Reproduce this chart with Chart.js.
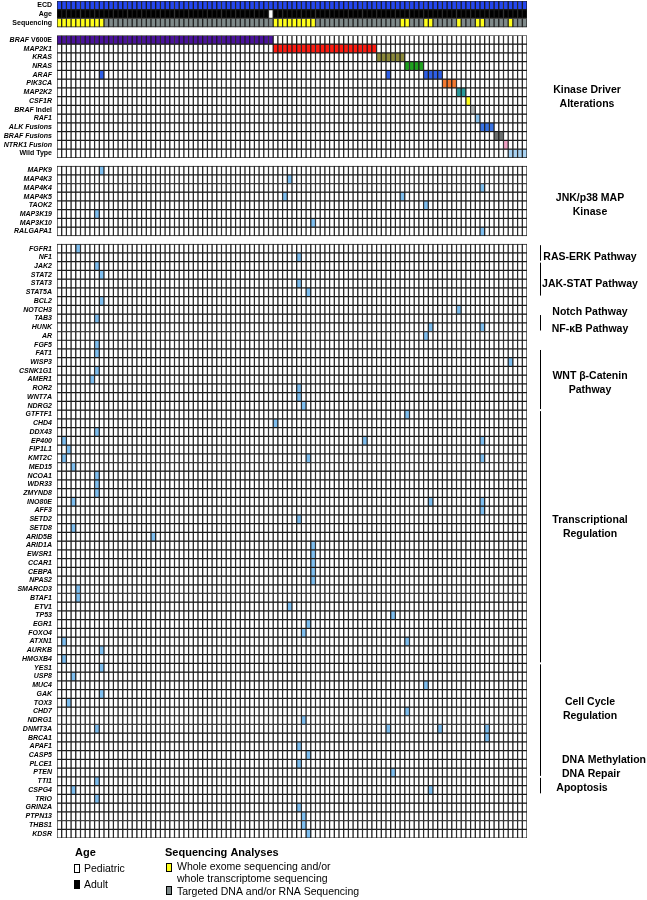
<!DOCTYPE html>
<html>
<head>
<meta charset="utf-8">
<script src="https://cdn.jsdelivr.net/npm/chart.js@4.4.0/dist/chart.umd.min.js"></script>
<style>
  html, body { margin: 0; padding: 0; background: #fff; }
  #wrap { position: relative; width: 647px; height: 900px; }
</style>
</head>
<body>
<div id="wrap"><canvas id="oncoprint"></canvas></div>
<script>
// one column per patient
const patients = Array.from({length: 100}, (_, i) => 'Pt ' + (i + 1));

// header rows
const pediatricCols = [45];
const wesSpans = [[0, 9], [46, 54], [73, 74], [78, 79], [85, 85], [89, 90], [96, 96]];

// kinase driver alterations, spans of columns [first, last]
const kinaseGenes = ['BRAF V600E', 'MAP2K1', 'KRAS', 'NRAS', 'ARAF', 'PIK3CA', 'MAP2K2', 'CSF1R',
  'BRAF Indel', 'RAF1', 'ALK Fusions', 'BRAF Fusions', 'NTRK1 Fusion', 'Wild Type'];
const kinaseSpans = [
  [[0, 45]], [[46, 67]], [[68, 73]], [[74, 77]], [[9, 9], [70, 70], [78, 81]], [[82, 84]],
  [[85, 86]], [[87, 87]], [[88, 88]], [[89, 89]], [[90, 92]], [[93, 94]], [[95, 95]], [[96, 99]]
];
const kinaseColors = ['#4a129c', '#ff1a10', '#8c8a3c', '#1fa31f', '#2f5fe6', '#f47a30', '#2a9a9c',
  '#ffff1a', '#b4b8b8', '#8ec6f0', '#3a74e4', '#6e7272', '#f2a2c4', '#a8d2f2'];

// JNK/p38 MAP kinase genes, mutated columns
const mapkGenes = ['MAPK9', 'MAP4K3', 'MAP4K4', 'MAP4K5', 'TAOK2', 'MAP3K19', 'MAP3K10', 'RALGAPA1'];
const mapkHits = [[9], [49], [90], [48, 73], [78], [8], [54], [90]];

// pathway genes, mutated columns
const otherGenes = ['FGFR1', 'NF1', 'JAK2', 'STAT2', 'STAT3', 'STAT5A', 'BCL2', 'NOTCH3', 'TAB3', 'HUNK',
  'AR', 'FGF5', 'FAT1', 'WISP3', 'CSNK1G1', 'AMER1', 'ROR2', 'WNT7A', 'NDRG2', 'GTFTF1', 'CHD4', 'DDX43',
  'EP400', 'FIP1L1', 'KMT2C', 'MED15', 'NCOA1', 'WDR33', 'ZMYND8', 'INO80E', 'AFF3', 'SETD2', 'SETD8',
  'ARID5B', 'ARID1A', 'EWSR1', 'CCAR1', 'CEBPA', 'NPAS2', 'SMARCD3', 'BTAF1', 'ETV1', 'TP53', 'EGR1',
  'FOXO4', 'ATXN1', 'AURKB', 'HMGXB4', 'YES1', 'USP8', 'MUC4', 'GAK', 'TOX3', 'CHD7', 'NDRG1', 'DNMT3A',
  'BRCA1', 'APAF1', 'CASP5', 'PLCE1', 'PTEN', 'TTI1', 'CSPG4', 'TRIO', 'GRIN2A', 'PTPN13', 'THBS1', 'KDSR'];
const otherHits = [
  [4], [51], [8], [9], [51], [53], [9], [85], [8], [79, 90],
  [78], [8], [8], [96], [8], [7], [51], [51], [52], [74], [46], [8],
  [1, 65, 90], [2], [1, 53, 90], [3], [8], [8], [8], [3, 79, 90], [90], [51], [3],
  [20], [54], [54], [54], [54], [54], [4], [4], [49], [71], [53],
  [52], [1, 74], [9], [1], [9], [3], [78], [9], [2], [74], [52], [8, 70, 81, 91],
  [91], [51], [53], [51], [71], [8], [3, 79], [8], [51], [52], [52], [53]
];

// group labels on the right; row numbers count within otherGenes
const pathwayGroups = [
  {lines: ['RAS-ERK Pathway'], at: 1.0, first: 0, last: 1},
  {lines: ['JAK-STAT Pathway'], at: 4.1, first: 2, last: 5},
  {lines: ['Notch Pathway'], at: 7.3},
  {lines: ['NF-\u03baB Pathway'], at: 9.2, first: 8, last: 9},
  {lines: ['WNT \u03b2-Catenin', 'Pathway'], at: 15.4, first: 12, last: 18},
  {lines: ['Transcriptional', 'Regulation'], at: 31.9, first: 19, last: 47},
  {lines: ['Cell Cycle', 'Regulation'], at: 52.7, first: 48, last: 60},
  {lines: ['DNA Methylation', 'DNA Repair'], at: 59.4, x: 562, align: 'left'},
  {lines: ['Apoptosis'], at: 61.75, first: 61, last: 62, x: 582}
];

const ECD_BLUE = '#2446f0';
const YELLOW = '#ffff1a';
const SEQ_GRAY = '#7f8a8a';
const HIT = '#7fbff0';
const GRID = '#1c1c1c';
const FONT = '"Liberation Sans", Arial, Helvetica, sans-serif';
const GAP = 0.95;

const inSpans = (spans, c) => spans.some(s => c >= s[0] && c <= s[1]);

// stack the rows top to bottom, one unit each
const rows = [];
let cursor = 0;
function addRow(label, colorAt) {
  rows.push({label: label, y: cursor, colors: patients.map((_, c) => colorAt(c))});
  cursor += 1;
}
addRow('ECD', () => ECD_BLUE);
addRow('Age', c => pediatricCols.includes(c) ? '#ffffff' : '#000000');
addRow('Sequencing', c => inSpans(wesSpans, c) ? YELLOW : SEQ_GRAY);
cursor += GAP;
const kinaseStart = cursor;
kinaseGenes.forEach((g, i) => addRow(g, c => inSpans(kinaseSpans[i], c) ? kinaseColors[i] : '#ffffff'));
cursor += GAP;
const mapkStart = cursor;
mapkGenes.forEach((g, i) => addRow(g, c => mapkHits[i].includes(c) ? HIT : '#ffffff'));
cursor += GAP;
const otherStart = cursor;
otherGenes.forEach((g, i) => addRow(g, c => otherHits[i].includes(c) ? HIT : '#ffffff'));
const TOTAL = cursor;

const uprightLabels = ['ECD', 'Age', 'Sequencing', 'Wild Type'];
const uprightSuffix = {'BRAF V600E': ' V600E', 'BRAF Indel': ' Indel'};

const rowLabels = {
  id: 'rowLabels',
  afterDraw(chart) {
    const ctx = chart.ctx;
    const y = chart.scales.y;
    ctx.save();
    ctx.fillStyle = '#000';
    ctx.textBaseline = 'middle';
    rows.forEach(r => {
      const py = y.getPixelForValue(r.y + 0.5);
      const right = 52;
      ctx.textAlign = 'right';
      if (uprightLabels.includes(r.label)) {
        ctx.font = 'bold 7px ' + FONT;
        ctx.fillText(r.label, right, py);
      } else if (uprightSuffix[r.label]) {
        const suf = uprightSuffix[r.label];
        const head = r.label.slice(0, r.label.length - suf.length);
        ctx.font = 'bold 7px ' + FONT;
        const w = ctx.measureText(suf).width;
        ctx.fillText(suf, right, py);
        ctx.font = 'italic bold 7px ' + FONT;
        ctx.fillText(head, right - w, py);
      } else {
        ctx.font = 'italic bold 7px ' + FONT;
        ctx.fillText(r.label, right, py);
      }
    });

    // group titles and brackets
    ctx.font = 'bold 10.5px ' + FONT;
    const lh = 14;
    const drawLines = (lines, cy, cx, align) => {
      ctx.textAlign = align || 'center';
      lines.forEach((t, k) => ctx.fillText(t, cx, cy + (k - (lines.length - 1) / 2) * lh));
    };
    drawLines(['Kinase Driver', 'Alterations'], y.getPixelForValue(kinaseStart + 7), 587);
    drawLines(['JNK/p38 MAP', 'Kinase'], y.getPixelForValue(mapkStart + 4.5), 590);
    ctx.strokeStyle = '#000';
    ctx.lineWidth = 1;
    pathwayGroups.forEach(g => {
      drawLines(g.lines, y.getPixelForValue(otherStart + g.at + 0.5), g.x || 590, g.align);
      if (g.first !== undefined) {
        const top = y.getPixelForValue(otherStart + g.first);
        const bot = y.getPixelForValue(otherStart + g.last + 1);
        ctx.beginPath();
        ctx.moveTo(540.5, top + 1);
        ctx.lineTo(540.5, bot - 1);
        ctx.stroke();
      }
    });
    ctx.restore();
  }
};

const bottomLegend = {
  id: 'bottomLegend',
  afterDraw(chart) {
    const ctx = chart.ctx;
    ctx.save();
    ctx.fillStyle = '#000';
    ctx.textAlign = 'left';
    ctx.textBaseline = 'middle';
    ctx.font = 'bold 11px ' + FONT;
    ctx.fillText('Age', 75, 853);
    ctx.fillText('Sequencing Analyses', 165, 853);
    ctx.font = '10.5px ' + FONT;
    ctx.strokeStyle = '#000';
    ctx.lineWidth = 1;
    ctx.strokeRect(74.5, 864.5, 5, 8);
    ctx.fillRect(74, 880, 6, 9);
    ctx.fillText('Pediatric', 84, 869);
    ctx.fillText('Adult', 84, 885);
    ctx.fillStyle = YELLOW;
    ctx.fillRect(166, 863, 6, 9);
    ctx.strokeRect(166.5, 863.5, 5, 8);
    ctx.fillStyle = SEQ_GRAY;
    ctx.fillRect(166, 886, 6, 9);
    ctx.strokeRect(166.5, 886.5, 5, 8);
    ctx.fillStyle = '#000';
    ctx.fillText('Whole exome sequencing and/or', 177, 867);
    ctx.fillText('whole transcriptome sequencing', 177, 879);
    ctx.fillText('Targeted DNA and/or RNA Sequencing', 177, 892);
    ctx.restore();
  }
};

new Chart(document.getElementById('oncoprint'), {
  type: 'bar',
  data: {
    labels: patients,
    datasets: rows.map(r => ({
      label: r.label,
      data: patients.map(() => [r.y, r.y + 1]),
      backgroundColor: r.colors,
      borderColor: GRID,
      borderWidth: 0.95,
      borderSkipped: false,
      grouped: false,
      barPercentage: 1,
      categoryPercentage: 1
    }))
  },
  options: {
    animation: false,
    responsive: true,
    maintainAspectRatio: false,
    layout: {padding: {left: 57, right: 120, top: 1, bottom: 62}},
    scales: {
      x: {display: false},
      y: {display: false, min: 0, max: TOTAL, reverse: true}
    },
    plugins: {
      legend: {display: false},
      tooltip: {enabled: false}
    }
  },
  plugins: [rowLabels, bottomLegend]
});
</script>
</body>
</html>
